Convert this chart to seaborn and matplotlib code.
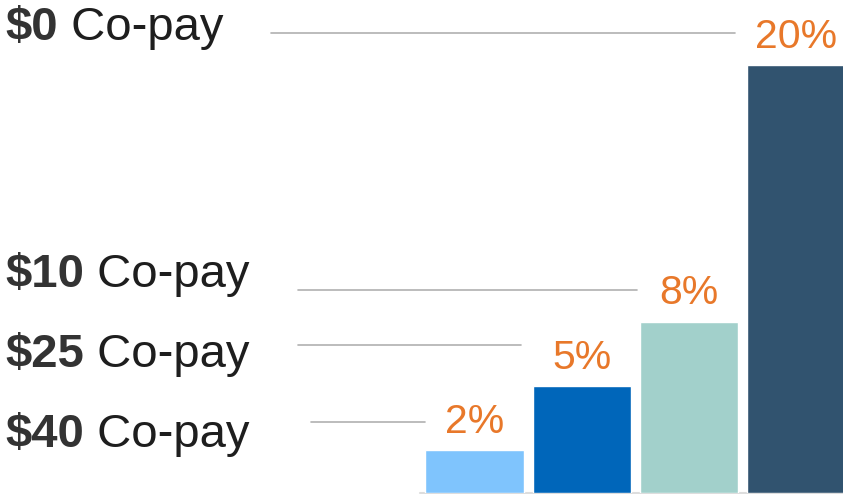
import matplotlib
matplotlib.use("Agg")
import matplotlib.pyplot as plt
from matplotlib.lines import Line2D
import pandas as pd
import seaborn as sns

# data
copays = ["$40", "$25", "$10", "$0"]
pct = [2, 5, 8, 20]
pct_labels = ["2%", "5%", "8%", "20%"]
bar_colors = ["#7FC4FD", "#0066BA", "#A2D0CB", "#31536F"]

W, H = 843, 494

sns.set_theme(style="white")
plt.rcParams["font.family"] = ["Liberation Sans", "DejaVu Sans"]

df = pd.DataFrame({"copay": copays, "pct": pct})

fig = plt.figure(figsize=(W / 100, H / 100), dpi=100)
ax = fig.add_axes([420 / W, 1 / H, 423 / W, 493 / H])

sns.barplot(data=df, x="copay", y="pct", hue="copay", palette=bar_colors,
            order=copays, hue_order=copays, width=0.915, saturation=1,
            legend=False, ax=ax)

ax.set_xlim(-0.508, 3.434)
ax.set_ylim(0, 493 / 21.4)
ax.axis("off")
ax.axhline(0, color="#dddddd", lw=1.5, clip_on=False, zorder=0)

# value labels above bars
for i, (v, lab) in enumerate(zip(pct, pct_labels)):
    ax.annotate(lab, xy=(i, v), xytext=(0, 12.5), textcoords="offset points",
                ha="center", va="baseline", fontsize=29.5, color="#E8782A")


def fx(px):
    return px / W


def fy(py):
    return 1 - py / H


# left labels: bold amount + regular "Co-pay"
label_rows = {"$0": 40, "$10": 287, "$25": 367, "$40": 447}
for amt in ["$0", "$10", "$25", "$40"]:
    t = fig.text(fx(5), fy(label_rows[amt]), amt, fontsize=34,
                 fontweight="bold", color="#333333", va="baseline", ha="left")
    plt.annotate(" Co-pay", xy=(1, 0), xycoords=t, xytext=(0, 0),
                 textcoords="offset points", fontsize=34,
                 color="#1e1e1e", va="bottom", ha="left",
                 annotation_clip=False)

# leader lines (pixel layout)
leaders = [(33, 271, 735), (290, 298, 637), (345, 298, 521), (422, 311, 425)]
for y, x0, x1 in leaders:
    fig.add_artist(Line2D([fx(x0), fx(x1)], [fy(y), fy(y)],
                          transform=fig.transFigure, color="#b0b0b0", lw=1.2))

fig.savefig("out.png", dpi=100)
